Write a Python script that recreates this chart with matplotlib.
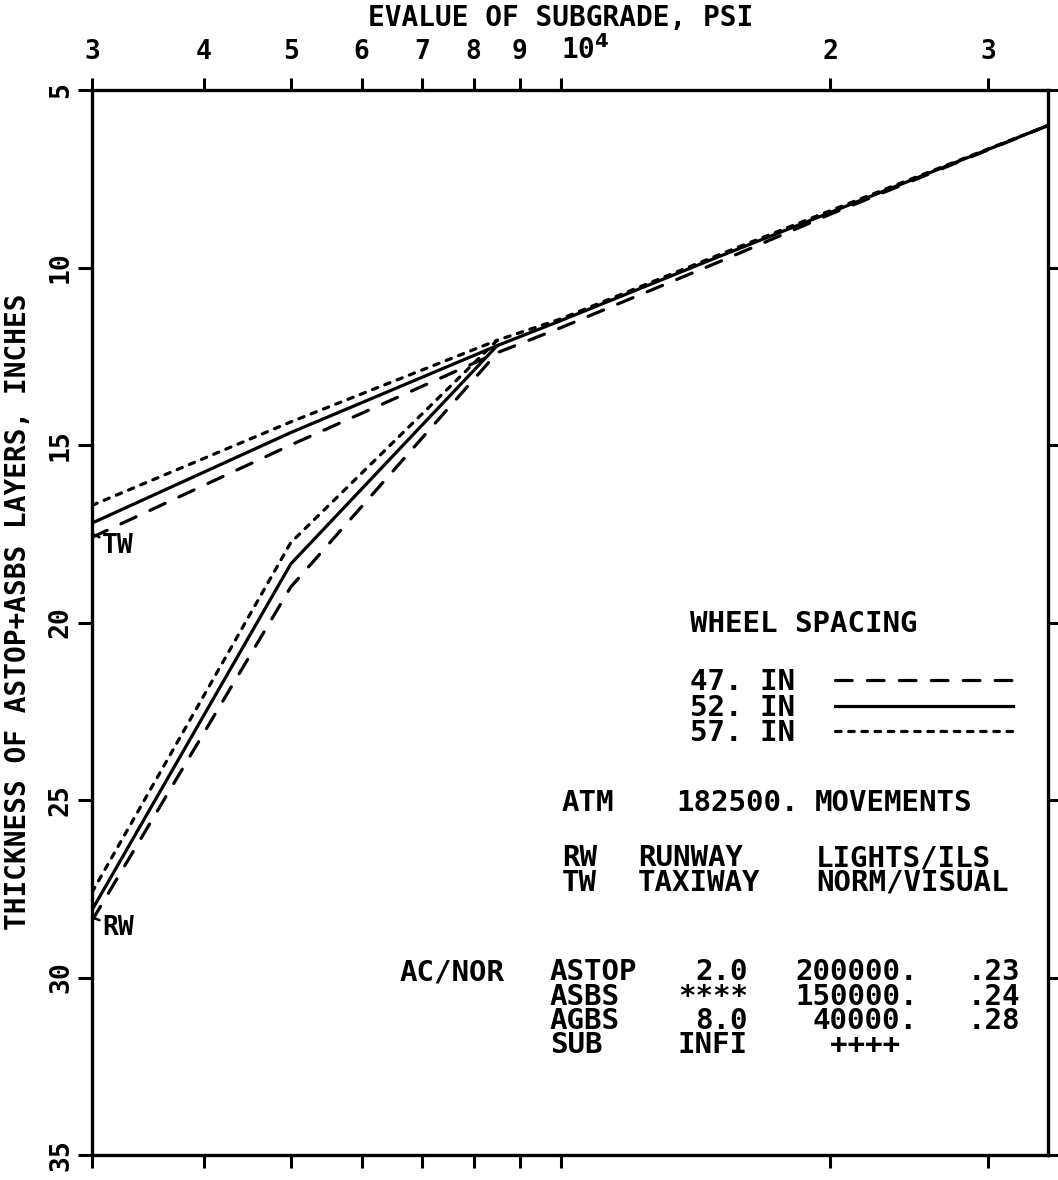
import matplotlib
matplotlib.use("Agg")
import matplotlib.pyplot as plt
from matplotlib.ticker import FixedLocator, NullLocator

plt.rcParams["font.family"] = "DejaVu Sans Mono"
plt.rcParams["font.weight"] = "bold"
plt.rcParams["lines.scale_dashes"] = False

# --- data ---
x_rw = [3000, 5000, 8500, 10000, 15000, 20000, 35000]
rw_47 = [28.4, 19.0, 12.4, 11.7, 9.85, 8.5, 6.0]
rw_52 = [28.1, 18.35, 12.2, 11.5, 9.7, 8.45, 6.0]
rw_57 = [27.6, 17.75, 12.05, 11.45, 9.65, 8.4, 6.0]

x_tw = [3000, 5000, 8500]
tw_47 = [17.6, 15.0, 12.4]
tw_52 = [17.2, 14.65, 12.2]
tw_57 = [16.7, 14.35, 12.05]

spacing_labels = ["47. IN", "52. IN", "57. IN"]
x_ticks = [3000, 4000, 5000, 6000, 7000, 8000, 9000, 10000, 20000, 30000]
x_ticklabels = ["3", "4", "5", "6", "7", "8", "9", "10$^{\\mathbf{4}}$", "2", "3"]
y_ticks = [5, 10, 15, 20, 25, 30, 35]

layer_names = ["ASTOP", "ASBS", "AGBS", "SUB"]
layer_thick = ["2.0", "****", "8.0", "INFI"]
layer_modulus = ["200000.", "150000.", "40000.", "++++"]
layer_ratio = [".23", ".24", ".28"]

W, H = 1058, 1180
fig = plt.figure(figsize=(W / 100, H / 100), dpi=100)
ax = fig.add_axes([92 / W, 1 - 1155 / H, 956 / W, 1065 / H])

lw = 2.3
styles = [
    dict(linestyle=(0, (12, 11)), dash_capstyle="round"),
    dict(linestyle="-"),
    dict(linestyle=(0, (4, 5.5)), dash_capstyle="round"),
]

for ys, st in zip([rw_47, rw_52, rw_57], styles):
    ax.plot(x_rw, ys, color="black", lw=lw, **st)
for ys, st in zip([tw_47, tw_52, tw_57], styles):
    ax.plot(x_tw, ys, color="black", lw=lw, **st)

ax.set_xscale("log")
ax.set_xlim(3000, 35000)
ax.set_ylim(35, 5)

ax.xaxis.set_major_locator(FixedLocator(x_ticks))
ax.xaxis.set_minor_locator(NullLocator())
ax.set_xticklabels(x_ticklabels)
ax.yaxis.set_major_locator(FixedLocator(y_ticks))
ax.set_yticklabels([str(v) for v in y_ticks], rotation=90, va="center")

ax.tick_params(axis="x", which="both", top=True, labeltop=True, bottom=True,
               labelbottom=False, direction="out", length=9, width=2.2,
               labelsize=19, pad=9)
ax.tick_params(axis="y", left=True, right=True, labelleft=True,
               direction="out", length=10, width=2.2, labelsize=19, pad=3)
for s in ax.spines.values():
    s.set_linewidth(2.4)

# the 10^4 label sits just right of its tick
for t in ax.xaxis.get_majorticklabels():
    if "10" in t.get_text():
        t.set_horizontalalignment("left")
        t.set_fontsize(20)

fig.text(561 / W, 1 - 18 / H, "EVALUE OF SUBGRADE, PSI", ha="center",
         va="center", fontsize=20)
fig.text(18 / W, 1 - 612 / H, "THICKNESS OF ASTOP+ASBS LAYERS, INCHES",
         rotation=90, ha="center", va="center", fontsize=20)

# curve labels
ax.annotate("TW", xy=(3000, tw_52[0] + 0.3), xytext=(3080, 17.85),
            fontsize=19, va="center", ha="left",
            arrowprops=dict(arrowstyle="-", lw=1.8, color="black", shrinkA=0, shrinkB=0))
ax.annotate("RW", xy=(3000, rw_52[0] + 0.2), xytext=(3080, 28.6),
            fontsize=19, va="center", ha="left",
            arrowprops=dict(arrowstyle="-", lw=1.8, color="black", shrinkA=0, shrinkB=0))

FS = 21
FS_PX = FS * 100 / 72


def ftext(px, py, lines, ha="left", step=24):
    # py is the centre of the first row, step the row pitch in pixels
    if isinstance(lines, str):
        lines = [lines]
    fig.text(px / W, 1 - (py - 0.395 * FS_PX) / H, "\n".join(lines),
             ha=ha, va="top", multialignment=ha, fontsize=FS,
             linespacing=step / (0.99 * FS_PX))


# legend block
ftext(690, 622, "WHEEL SPACING")
ftext(690, 680, spacing_labels, step=25.5)
for st, py in zip(styles, [680, 705.5, 731]):
    fig.add_artist(plt.Line2D([835 / W, 1013 / W], [1 - py / H, 1 - py / H],
                              color="black", lw=lw, **st))

# info block
ftext(562, 801, "ATM")
ftext(676, 801, "182500.")
ftext(815, 801, "MOVEMENTS")
ftext(562, 856, ["RW", "TW"])
ftext(638, 856, ["RUNWAY", "TAXIWAY"])
ftext(816, 856, ["LIGHTS/ILS", "NORM/VISUAL"])

ftext(400, 970, "AC/NOR")
ftext(550, 970, layer_names)
ftext(748, 970, layer_thick, ha="right")
# the "++++" entry sits one character short of the number column
ftext(918, 970, [m if m.endswith(".") else m + " " for m in layer_modulus],
      ha="right")
ftext(1020, 970, layer_ratio, ha="right")

fig.savefig("out.png", dpi=100)
